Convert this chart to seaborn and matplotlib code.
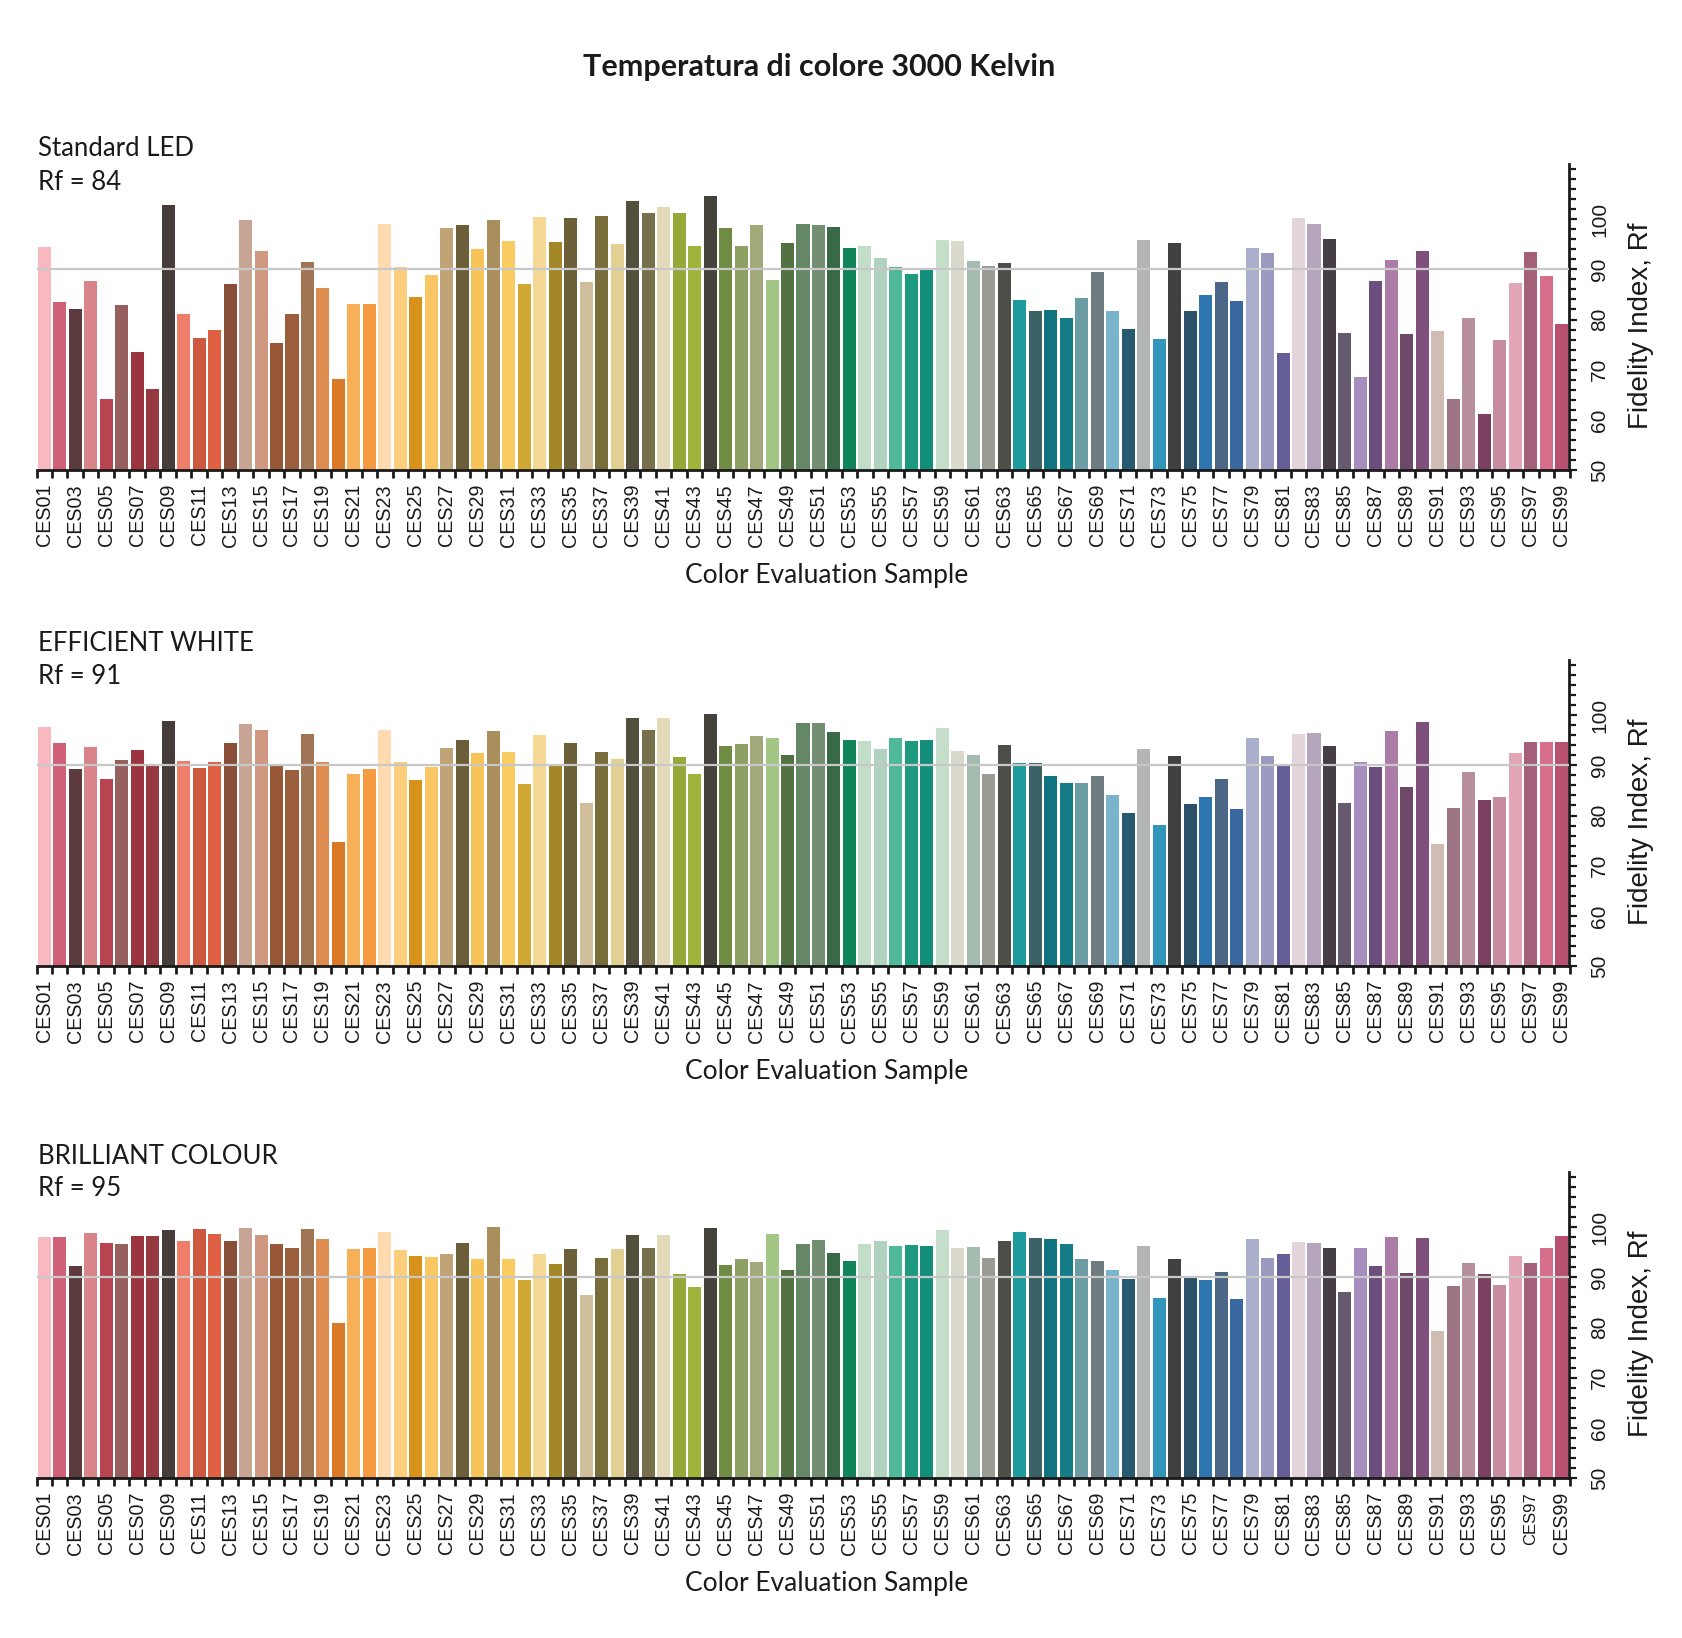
import matplotlib
matplotlib.use("Agg")
import matplotlib.pyplot as plt
import numpy as np
import pandas as pd
import seaborn as sns
from matplotlib.ticker import FixedLocator, MultipleLocator

sns.set_theme(style="white")
plt.rcParams['font.family'] = ['Liberation Sans', 'DejaVu Sans']

# ---------------- data ----------------
samples = ["CES%02d" % i for i in range(1, 100)]

colors = [
    "#F7B8C0", "#D06078", "#5C3A3E", "#D88488", "#B84450", "#96605E", "#9C3440", "#943A40", "#463C3A", "#EE7E6A",
    "#CC5840", "#E06044", "#884E38", "#C8A494", "#D09880", "#985838", "#9A5E3C", "#A27456", "#DE8C50", "#DA7A28",
    "#F8B058", "#F49A40", "#FDDAB0", "#FCCE7C", "#D8921C", "#FAC664", "#C0A478", "#6C5E38", "#F8C458", "#AA8E5C",
    "#F8CC60", "#D2A834", "#F4D894", "#A48828", "#6C6038", "#D0BE9C", "#776C3A", "#E0D092", "#52503C", "#76704C",
    "#E2DAB8", "#96A838", "#A0B43C", "#44423A", "#708C44", "#8EA064", "#A2AA7C", "#A2C684", "#527244", "#648866",
    "#748E72", "#386A48", "#0E8458", "#C2DEC8", "#B0D2BE", "#4EB898", "#1E9A7E", "#148E7C", "#C4DECA", "#DADACC",
    "#A4BCB0", "#9A9C94", "#4C4E48", "#1C9A9C", "#3A6264", "#107480", "#167C88", "#6C9CA4", "#6E7C80", "#7AB4CC",
    "#265A70", "#B4B6B6", "#3096BC", "#404040", "#2C5068", "#2E76B0", "#4C6688", "#3A68A0", "#AAB0CC", "#9A9AC0",
    "#665E98", "#E2D4DA", "#B4A4BC", "#463E44", "#665A6E", "#A68EBE", "#6C4E7C", "#AC7CA8", "#6E4868", "#80507C",
    "#D0BCB2", "#9C7484", "#B68E9C", "#7C4060", "#C88CA0", "#E2A6B6", "#A46078", "#D66E8C", "#B85070",
]

standard_led = [
    94.5, 83.5, 82.1, 87.7, 64.2, 82.8, 73.5, 66.1, 102.8, 81.1,
    76.4, 78.0, 87.1, 99.9, 93.7, 75.4, 81.1, 91.5, 86.3, 68.1,
    83.1, 83.0, 99.1, 90.5, 84.5, 88.9, 98.3, 98.9, 94.1, 99.9,
    95.6, 87.1, 100.4, 95.4, 100.2, 87.5, 100.6, 95.1, 103.7, 101.3,
    102.4, 101.2, 94.7, 104.7, 98.3, 94.7, 98.9, 87.9, 95.2, 99.1,
    98.8, 98.5, 94.3, 94.7, 92.3, 90.5, 89.1, 89.9, 95.9, 95.7,
    91.7, 90.7, 91.3, 83.9, 81.7, 81.8, 80.4, 84.3, 89.5, 81.7,
    78.1, 95.8, 76.2, 95.2, 81.6, 84.9, 87.5, 83.6, 94.3, 93.3,
    73.3, 100.3, 99.0, 96.0, 77.3, 68.6, 87.7, 91.9, 77.1, 93.7,
    77.8, 64.2, 80.4, 61.1, 76.0, 87.2, 93.4, 88.7, 79.1,
]

efficient_white = [
    97.6, 94.5, 89.3, 93.7, 87.3, 91.0, 93.0, 90.1, 98.8, 90.9,
    89.5, 90.6, 94.4, 98.3, 97.0, 90.1, 89.0, 96.2, 90.6, 74.8,
    88.3, 89.3, 97.1, 90.7, 87.1, 89.7, 93.5, 95.0, 92.4, 96.8,
    92.7, 86.3, 96.0, 90.3, 94.5, 82.5, 92.7, 91.3, 99.4, 97.0,
    99.4, 91.7, 88.3, 100.2, 93.9, 94.3, 95.9, 95.5, 92.1, 98.4,
    98.4, 96.6, 95.0, 94.8, 93.3, 95.5, 94.9, 95.1, 97.4, 92.9,
    92.1, 88.3, 94.1, 90.4, 90.5, 87.8, 86.5, 86.5, 87.9, 84.0,
    80.5, 93.2, 78.2, 91.9, 82.3, 83.7, 87.3, 81.2, 95.5, 91.8,
    90.3, 96.3, 96.4, 93.8, 82.5, 90.6, 89.7, 96.9, 85.7, 98.6,
    74.3, 81.4, 88.6, 83.0, 83.7, 92.5, 94.6, 94.6, 94.6,
]

brilliant_colour = [
    98.1, 98.1, 92.3, 98.9, 96.8, 96.7, 98.3, 98.3, 99.5, 97.3,
    99.7, 98.6, 97.3, 99.9, 98.4, 96.6, 95.8, 99.6, 97.6, 80.8,
    95.7, 95.9, 99.1, 95.4, 94.3, 94.1, 94.7, 96.9, 93.6, 100.1,
    93.7, 89.4, 94.6, 92.6, 95.7, 86.4, 93.9, 95.6, 98.4, 95.9,
    98.4, 90.7, 88.1, 99.9, 92.5, 93.6, 93.1, 98.6, 91.5, 96.7,
    97.4, 94.9, 93.2, 96.7, 97.3, 96.3, 96.5, 96.3, 99.5, 95.9,
    96.1, 93.9, 97.3, 99.0, 97.9, 97.6, 96.7, 93.6, 93.2, 91.5,
    89.6, 96.2, 85.9, 93.6, 89.9, 89.5, 91.1, 85.7, 97.6, 93.8,
    94.6, 97.0, 96.8, 95.8, 87.1, 95.8, 92.2, 98.0, 90.9, 97.8,
    79.3, 88.3, 92.8, 90.7, 88.4, 94.3, 92.8, 95.8, 98.2,
]

panel_names = ["Standard LED", "EFFICIENT WHITE", "BRILLIANT COLOUR"]
panel_rf = ["Rf = 84", "Rf = 91", "Rf = 95"]
panel_values = [standard_led, efficient_white, brilliant_colour]

title = "Temperatura di colore 3000 Kelvin"
x_label = "Color Evaluation Sample"
y_label = "Fidelity Index, Rf"
y_ticks = [50, 60, 70, 80, 90, 100]

# ---------------- layout (pixel based) ----------------
W, H = 1683, 1638
fig = plt.figure(figsize=(W / 100, H / 100), dpi=100)
fig.patch.set_facecolor("white")

ax_left, ax_right, ax_h = 36.5, 1569.5, 306
ax_bottoms = [470, 966, 1478]
name_y = [148, 644, 1156]
rf_y = [182, 677, 1188]
xlabel_y = [575, 1072, 1583]

humanist = ['Lato', 'DejaVu Sans']

for k in range(3):
    b = ax_bottoms[k]
    ax = fig.add_axes([ax_left / W, 1 - b / H, (ax_right - ax_left) / W, ax_h / H])
    df = pd.DataFrame({"sample": samples, "rf": panel_values[k]})
    sns.barplot(data=df, x="sample", y="rf", hue="sample", palette=colors,
                legend=False, saturation=1, width=0.84, linewidth=0, ax=ax)
    ax.set_xlim(-0.5, 98.5)
    ax.set_ylim(50, 111)
    ax.axhline(90, color="#C8C8C8", lw=1.6, zorder=5)

    ax.set_facecolor("white")
    for s in ["top", "left"]:
        ax.spines[s].set_visible(False)
    for s in ["bottom", "right"]:
        ax.spines[s].set_visible(True)
        ax.spines[s].set_color("#1a1a1a")
        ax.spines[s].set_linewidth(2.0)

    # x ticks: labels at odd samples, tick marks at bar boundaries
    ax.xaxis.set_major_locator(FixedLocator(list(range(0, 99, 2))))
    ax.set_xticklabels(samples[::2], rotation=90, fontsize=14.2,
                       family=['Liberation Sans', 'DejaVu Sans'])
    ax.xaxis.set_minor_locator(FixedLocator([i - 0.5 for i in range(0, 100)]))
    ax.tick_params(axis="x", which="major", length=0, pad=10, colors="#1a1a1a")
    ax.tick_params(axis="x", which="minor", length=6, width=2, direction="out",
                   color="#1a1a1a", bottom=True)
    if k == 2:
        lbls = ax.get_xticklabels()
        lbls[48].set_fontsize(12)

    # y axis on the right
    ax.yaxis.tick_right()
    ax.yaxis.set_label_position("right")
    ax.set_yticks(y_ticks)
    ax.set_yticklabels([str(v) for v in y_ticks], rotation=90, va="center", ha="left",
                       fontsize=15)
    ax.yaxis.set_minor_locator(MultipleLocator(2))
    ax.tick_params(axis="y", which="both", right=True, left=False, direction="out",
                   length=6, width=1.6, color="#1a1a1a", pad=9, colors="#1a1a1a")
    ax.tick_params(axis="y", which="minor", length=5)
    ax.set_ylabel(y_label, fontsize=20, rotation=90, color="#1a1a1a")
    ax.yaxis.set_label_coords(1.038, 0.47)
    ax.set_xlabel("")

    fig.text(38.5 / W, 1 - name_y[k] / H, panel_names[k], fontsize=18.5,
             family=humanist, va="center", ha="left", color="#1a1a1a")
    fig.text(38.5 / W, 1 - rf_y[k] / H, panel_rf[k], fontsize=18.5,
             family=humanist, va="center", ha="left", color="#1a1a1a")
    fig.text(827 / W, 1 - xlabel_y[k] / H, x_label, fontsize=19,
             family=humanist, va="center", ha="center", color="#1a1a1a")

fig.text(819 / W, 1 - 67 / H, title, fontsize=22, fontweight="bold",
         family=humanist, va="center", ha="center", color="#1a1a1a")

fig.savefig("out.png", dpi=100, facecolor="white")
